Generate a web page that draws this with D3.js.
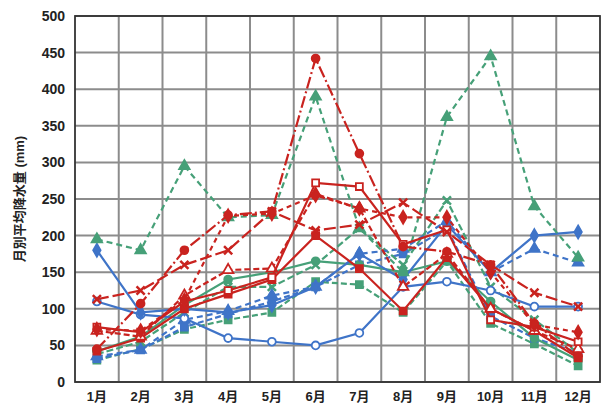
<!DOCTYPE html>
<html>
<head>
<meta charset="utf-8">
<script src="https://cdn.jsdelivr.net/npm/d3@7"></script>
<style>
  body { margin: 0; background: #fff; }
  svg text { font-family: "Liberation Sans", Arial, "Noto Sans CJK JP", sans-serif; font-weight: bold; fill: #222; }
</style>
</head>
<body>
<script>
const months = ["1月", "2月", "3月", "4月", "5月", "6月", "7月", "8月", "9月", "10月", "11月", "12月"];
const yTicks = [0, 50, 100, 150, 200, 250, 300, 350, 400, 450, 500];

// red series
const red1 = [45, 107, 180, 228, 233, 442, 312, 185, 178, 160, 80, 35];
const red2 = [113, 125, 160, 180, 233, 207, 215, 245, 205, 160, 122, 103];
const red3 = [72, 70, 112, 227, 230, 255, 237, 225, 225, 150, 78, 68];
const red4 = [75, 68, 110, 125, 143, 272, 267, 188, 208, 85, 75, 55];
const red5 = [70, 62, 118, 153, 155, 257, 237, 130, 175, 100, 70, 45];
const red6 = [42, 60, 100, 120, 140, 200, 155, 97, 170, 100, 70, 33];
// green series
const green1 = [195, 180, 295, 225, 228, 390, 210, 150, 362, 445, 240, 170];
const green2 = [42, 62, 105, 140, 150, 165, 160, 150, 165, 110, 60, 30];
const green3 = [38, 55, 95, 130, 130, 160, 210, 160, 248, 130, 85, 40];
const green4 = [30, 45, 72, 85, 95, 137, 133, 95, 165, 80, 52, 22];
// blue series
const blue1 = [110, 92, 87, 60, 55, 50, 67, 130, 137, 125, 103, 103];
const blue2 = [180, 95, 100, 95, 105, 130, 175, 140, 215, 150, 200, 205];
const blue3 = [35, 44, 85, 97, 118, 130, 175, 182, 220, 150, 182, 163];
const blue4 = [32, 44, 75, 93, 110, 130, 160, 175, 210, 90, 60, 40];

const RED = "#c9231f", GREEN = "#46a078", BLUE = "#3f74c8";

const series = [
  { values: green4, color: GREEN, dash: "6,3", marker: "square", fill: true },
  { values: blue4, color: BLUE, dash: "6,3", marker: "square", fill: true },
  { values: green3, color: GREEN, dash: "7,3", marker: "cross", fill: true },
  { values: green2, color: GREEN, dash: null, marker: "circle", fill: true },
  { values: blue3, color: BLUE, dash: "6,4", marker: "triangle", fill: true },
  { values: blue1, color: BLUE, dash: null, marker: "circle", fill: false },
  { values: blue2, color: BLUE, dash: null, marker: "diamond", fill: true },
  { values: green1, color: GREEN, dash: "6,4", marker: "triangle", fill: true },
  { values: red6, color: RED, dash: null, marker: "square", fill: true },
  { values: red5, color: RED, dash: "6,3", marker: "triangle", fill: false },
  { values: red4, color: RED, dash: null, marker: "square", fill: false },
  { values: red3, color: RED, dash: "5,4", marker: "diamond", fill: true },
  { values: red2, color: RED, dash: "12,4", marker: "cross", fill: true },
  { values: red1, color: RED, dash: "12,3,2,3", marker: "circle", fill: true }
];

const width = 609, height = 408;
const margin = { left: 75, right: 9, top: 16, bottom: 26 };

const svg = d3.select("body").append("svg")
  .attr("width", width)
  .attr("height", height);

const x = d3.scaleBand()
  .domain(months)
  .range([margin.left, width - margin.right]);

const y = d3.scaleLinear()
  .domain([0, 500])
  .range([height - margin.bottom, margin.top]);

// grid
const grid = svg.append("g");
grid.selectAll(".hgrid")
  .data(yTicks)
  .enter().append("line")
  .attr("x1", margin.left).attr("x2", width - margin.right)
  .attr("y1", d => y(d)).attr("y2", d => y(d))
  .style("stroke", "#8c8c8c")
  .style("stroke-width", 2);
grid.selectAll(".vgrid")
  .data(months.slice(1))
  .enter().append("line")
  .attr("x1", d => x(d)).attr("x2", d => x(d))
  .attr("y1", margin.top).attr("y2", height - margin.bottom)
  .style("stroke", "#8c8c8c")
  .style("stroke-width", 2);

// frame
svg.append("rect")
  .attr("x", margin.left).attr("y", margin.top)
  .attr("width", width - margin.left - margin.right)
  .attr("height", height - margin.top - margin.bottom)
  .style("fill", "none")
  .style("stroke", "#333")
  .style("stroke-width", 1.8);

// y axis
const yAxis = svg.append("g")
  .attr("transform", `translate(${margin.left},0)`)
  .call(d3.axisLeft(y).tickValues(yTicks).tickSize(0).tickPadding(10));
yAxis.select(".domain").remove();
yAxis.selectAll("text").style("font-size", "14px").style("font-family", null);

// x axis
const xAxis = svg.append("g")
  .attr("transform", `translate(0,${height - margin.bottom})`)
  .call(d3.axisBottom(x).tickSize(0).tickPadding(10));
xAxis.select(".domain").remove();
xAxis.selectAll("text").style("font-size", "13px").style("font-family", null);

// y title
svg.append("text")
  .attr("transform", `translate(24,${(margin.top + height - margin.bottom) / 2}) rotate(-90)`)
  .attr("text-anchor", "middle")
  .style("font-size", "13px")
  .text("月別平均降水量 (mm)");

const line = d3.line()
  .x((d, i) => x(months[i]) + x.bandwidth() / 2)
  .y(d => y(d));

const symbols = {
  square: d3.symbolSquare,
  triangle: d3.symbolTriangle,
  circle: d3.symbolCircle,
  diamond: d3.symbolDiamond,
  cross: d3.symbolX
};

series.forEach(s => {
  svg.append("path")
    .datum(s.values)
    .attr("d", line)
    .style("fill", "none")
    .style("stroke", s.color)
    .style("stroke-width", 2.2)
    .style("stroke-dasharray", s.dash);

  svg.selectAll(null)
    .data(s.values)
    .enter().append("path")
    .attr("transform", (d, i) => `translate(${x(months[i]) + x.bandwidth() / 2},${y(d)})`)
    .attr("d", d3.symbol().type(symbols[s.marker]).size(s.marker === "cross" ? 45 : 48))
    .style("fill", s.marker === "cross" ? "none" : (s.fill ? s.color : "#fff"))
    .style("stroke", s.color)
    .style("stroke-width", s.marker === "cross" ? 2.5 : 1.8);
});
</script>
</body>
</html>
